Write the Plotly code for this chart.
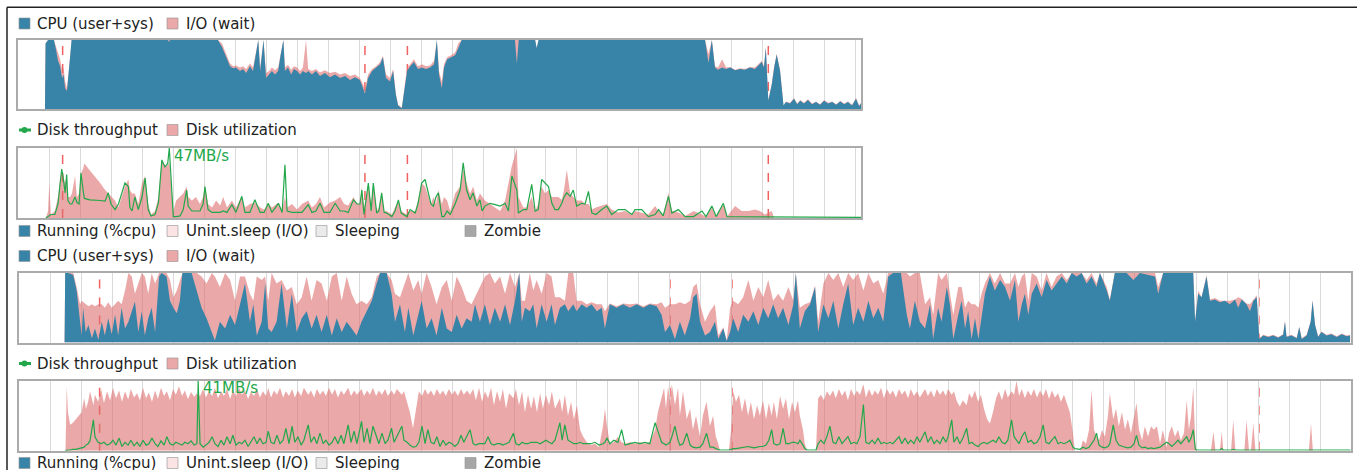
import plotly.graph_objects as go

W, H = 1357, 470
FONT = "DejaVu Sans"
BLUE = "#3884a8"
PINK = "rgba(222,110,110,0.6)"
GREEN = "#22a84a"
TEXT = "#222222"

# ---------------- data: first boot (top) ----------------
TOP_DURATION = 27.18
TOP_EVENTS = [1.43, 11.18, 12.55, 24.19]
TOP_MAX_LABEL = "47MB/s"

TOP_CPU_T = [
    0.86, 0.88, 0.96, 1.15, 1.22, 1.28, 1.35, 1.41, 1.46, 1.51,
    1.57, 1.64, 1.72, 4.83, 4.86, 4.89, 6.44, 6.57, 6.70, 6.83,
    6.93, 7.02, 7.15, 7.25, 7.35, 7.47, 7.57, 7.67, 7.74, 7.80,
    7.86, 7.91, 7.99, 8.09, 8.18, 8.28, 8.38, 8.46, 8.55, 8.60,
    8.70, 8.80, 8.89, 8.99, 9.09, 9.18, 9.28, 9.35, 9.47, 9.60,
    9.73, 9.89, 10.05, 10.22, 10.38, 10.54, 10.70, 10.86, 11.02, 11.12,
    11.18, 11.28, 11.41, 11.54, 11.67, 11.76, 11.86, 11.99, 12.09, 12.18,
    12.25, 12.37, 12.44, 12.54, 12.64, 12.76, 12.89, 13.02, 13.15, 13.28,
    13.41, 13.50, 13.57, 13.66, 13.73, 13.83, 13.96, 14.09, 14.19, 14.30,
    16.02, 16.08, 16.14, 16.67, 16.72, 16.78, 22.15, 22.26, 22.37, 22.47,
    22.57, 22.70, 22.83, 22.96, 23.12, 23.28, 23.44, 23.60, 23.76, 23.86,
    23.98, 24.05, 24.11, 24.19, 24.30, 24.38, 24.46, 24.57, 24.68, 24.76,
    24.89, 25.02, 25.12, 25.22, 25.34, 25.47, 25.60, 25.73, 25.86, 25.99,
    26.12, 26.25, 26.38, 26.51, 26.64, 26.76, 26.89, 27.02, 27.12, 27.18,
]
TOP_CPU = [
    0, 0.95, 1, 1, 0.85, 0.7, 0.62, 0.45, 0.5, 0.3,
    0.26, 0.6, 1, 1, 0.97, 1, 1, 0.9, 0.75, 0.62,
    0.59, 0.6, 0.55, 0.58, 0.52, 0.62, 0.55, 0.8, 1, 0.55,
    0.8, 1, 0.45, 0.5, 0.55, 0.5, 0.55, 0.78, 1, 0.55,
    0.6, 0.5, 0.58, 0.55, 0.5, 0.55, 0.52, 0.55, 0.5, 0.55,
    0.48, 0.52, 0.46, 0.5, 0.45, 0.48, 0.42, 0.46, 0.42, 0.3,
    0.22, 0.45, 0.55, 0.6, 0.65, 0.75, 0.45, 0.4, 0.55, 0.2,
    0.05, 0.01, 0.25, 0.55, 0.62, 0.68, 0.58, 0.6, 0.58, 0.6,
    0.65, 1, 0.5, 0.3, 0.6, 0.72, 0.75, 0.78, 0.88, 1,
    1, 0.66, 1, 1, 0.88, 1, 1, 0.67, 1, 0.6,
    0.57, 0.6, 0.58, 0.6, 0.56, 0.58, 0.57, 0.6, 0.58, 0.62,
    0.68, 0.6, 0.89, 0.12, 0.35, 0.6, 0.79, 0.55, 0.05, 0.1,
    0.08, 0.15, 0.07, 0.12, 0.08, 0.13, 0.07, 0.1, 0.06, 0.12,
    0.08, 0.1, 0.06, 0.11, 0.07, 0.1, 0.05, 0.15, 0.04, 0.08,
]
TOP_CPU_IO = [
    0, 0.95, 1, 1, 0.9, 0.8, 0.72, 0.55, 0.6, 0.4,
    0.3, 0.6, 1, 1, 1, 1, 1, 0.95, 0.8, 0.66,
    0.62, 0.63, 0.6, 0.62, 0.58, 0.66, 0.6, 0.82, 1, 0.6,
    0.82, 1, 0.52, 0.55, 0.6, 0.56, 0.6, 0.8, 1, 0.6,
    0.64, 0.57, 0.62, 0.6, 0.55, 0.6, 1, 0.58, 0.55, 0.58,
    0.53, 0.56, 0.52, 0.54, 0.5, 0.52, 0.48, 0.5, 0.45, 0.36,
    0.28, 0.5, 0.58, 0.62, 0.68, 0.77, 0.5, 0.45, 0.58, 0.22,
    0.06, 0.02, 0.27, 0.6, 0.65, 0.72, 0.62, 0.65, 0.62, 0.63,
    0.7, 1, 0.55, 0.4, 0.65, 0.75, 0.78, 0.82, 0.95, 1,
    1, 1, 1, 1, 0.88, 1, 1, 0.8, 1, 0.62,
    0.6, 0.72, 0.6, 0.61, 0.57, 0.59, 0.58, 0.61, 0.6, 0.64,
    0.7, 0.62, 0.89, 0.13, 0.36, 0.62, 0.8, 0.56, 0.05, 0.11,
    0.09, 0.16, 0.08, 0.13, 0.09, 0.14, 0.08, 0.11, 0.07, 0.13,
    0.09, 0.11, 0.07, 0.12, 0.08, 0.11, 0.06, 0.16, 0.05, 0.09,
]

TOP_DISK_T = [
    0.89, 0.96, 1.00, 1.05, 1.18, 1.28, 1.35, 1.40, 1.44, 1.51,
    1.56, 1.60, 1.67, 1.73, 1.83, 1.89, 1.96, 2.02, 2.09, 2.13,
    2.31, 2.47, 2.64, 2.80, 2.90, 2.99, 3.12, 3.23, 3.34, 3.44,
    3.55, 3.60, 3.67, 3.76, 3.87, 3.99, 4.09, 4.19, 4.28, 4.41,
    4.52, 4.63, 4.73, 4.82, 4.87, 4.93, 5.00, 5.09, 5.22, 5.32,
    5.43, 5.48, 5.60, 5.73, 5.86, 5.96, 6.02, 6.12, 6.25, 6.38,
    6.51, 6.61, 6.73, 6.89, 7.02, 7.21, 7.31, 7.47, 7.63, 7.80,
    7.93, 8.06, 8.18, 8.39, 8.51, 8.60, 8.67, 8.83, 8.99, 9.15,
    9.35, 9.47, 9.60, 9.73, 9.86, 10.05, 10.22, 10.38, 10.51, 10.64,
    10.81, 10.93, 11.02, 11.08, 11.15, 11.29, 11.38, 11.45, 11.56, 11.63,
    11.72, 11.80, 11.88, 12.05, 12.15, 12.26, 12.35, 12.53, 12.64, 12.80,
    12.89, 13.01, 13.12, 13.23, 13.31, 13.39, 13.47, 13.55, 13.66, 13.73,
    13.83, 13.93, 14.09, 14.25, 14.35, 14.46, 14.57, 14.67, 14.79, 14.89,
    14.96, 15.05, 15.21, 15.38, 15.54, 15.70, 15.81, 15.92, 15.99, 16.08,
    16.13, 16.29, 16.40, 16.56, 16.67, 16.77, 16.88, 16.99, 17.10, 17.21,
    17.31, 17.42, 17.53, 17.60, 17.69, 17.80, 17.90, 18.01, 18.17, 18.28,
    18.39, 18.50, 18.63, 18.82, 18.98, 19.14, 19.35, 19.57, 19.79, 19.89,
    20.11, 20.32, 20.54, 20.65, 20.80, 20.97, 21.08, 21.29, 21.51, 21.78,
    22.05, 22.18, 22.37, 22.51, 22.74, 22.86, 23.12, 23.33, 23.55, 23.76,
    23.92, 24.08, 24.30, 24.38, 27.18,
]
TOP_UTIL = [
    0, 0.1, 0.5, 0.05, 0.1, 0.3, 0.55, 0.68, 0.6, 0.5,
    0.55, 0.3, 0.3, 0.35, 0.6, 0.3, 0.35, 0.64, 0.7, 0.78,
    0.68, 0.6, 0.5, 0.4, 0.35, 0.3, 0.25, 0.15, 0.3, 0.45,
    0.55, 0.4, 0.35, 0.35, 0.2, 0.5, 0.6, 0.2, 0.05, 0.1,
    0.3, 0.83, 0.75, 0.75, 0.8, 0.5, 0.1, 0.25, 0.3, 0.35,
    0.45, 0.3, 0.25, 0.3, 0.2, 0.3, 0.45, 0.2, 0.15, 0.25,
    0.18, 0.3, 0.15, 0.25, 0.15, 0.31, 0.15, 0.2, 0.22, 0.15,
    0.12, 0.2, 0.15, 0.22, 0.1, 0.3, 0.15, 0.2, 0.12, 0.2,
    0.25, 0.15, 0.2, 0.3, 0.15, 0.22, 0.25, 0.3, 0.2, 0.18,
    0.3, 0.2, 0.2, 0.45, 0.15, 0.45, 0.2, 0.45, 0.1, 0.15,
    0.35, 0.1, 0.1, 0.05, 0.15, 0.25, 0.1, 0.05, 0.1, 0.1,
    0.25, 0.5, 0.45, 0.3, 0.2, 0.3, 0.2, 0.4, 0.2, 0.3,
    0.25, 0.1, 0.35, 0.45, 0.7, 0.5, 0.35, 0.45, 0.25, 0.35,
    0.3, 0.25, 0.2, 0.15, 0.1, 0.25, 0.5, 0.75, 0.85, 1.0,
    0.3, 0.15, 0.15, 0.3, 0.1, 0.2, 0.45, 0.35, 0.4, 0.3,
    0.3, 0.3, 0.26, 0.4, 0.69, 0.35, 0.3, 0.25, 0.25, 0.2,
    0.2, 0.12, 0.15, 0.18, 0.2, 0.12, 0.08, 0.1, 0.05, 0.1,
    0.08, 0.05, 0.17, 0.1, 0.05, 0.36, 0.1, 0.08, 0.03, 0.1,
    0.05, 0.02, 0.15, 0.02, 0.2, 0.02, 0.17, 0.1, 0.1, 0.12,
    0.1, 0.05, 0.1, 0, 0,
]
TOP_TPUT = [
    0, 0.02, 0.03, 0.05, 0.05, 0.2, 0.5, 0.7, 0.6, 0.36,
    0.62, 0.25, 0.2, 0.2, 0.3, 0.22, 0.2, 0.64, 0.4, 0.28,
    0.26, 0.26, 0.25, 0.24, 0.36, 0.2, 0.12, 0.2, 0.36, 0.5,
    0.45, 0.15, 0.1, 0.3, 0.12, 0.3, 0.57, 0.12, 0.03, 0.05,
    0.22, 0.83, 0.73, 0.78, 1.0, 0.6, 0.02, 0.02, 0.03, 0.12,
    0.4, 0.17, 0.1, 0.1, 0.1, 0.2, 0.45, 0.12, 0.08, 0.08,
    0.08, 0.1, 0.08, 0.19, 0.08, 0.31, 0.08, 0.08, 0.26, 0.08,
    0.08, 0.21, 0.08, 0.21, 0.08, 0.76, 0.1, 0.08, 0.08, 0.08,
    0.19, 0.08, 0.1, 0.21, 0.08, 0.08, 0.21, 0.1, 0.1, 0.08,
    0.26, 0.2, 0.2, 0.4, 0.05, 0.5, 0.1, 0.5, 0.07, 0.1,
    0.36, 0.08, 0.07, 0.02, 0.1, 0.26, 0.07, 0.02, 0.12, 0.07,
    0.2, 0.5, 0.55, 0.36, 0.2, 0.17, 0.3, 0.36, 0.02, 0.02,
    0.1, 0.05, 0.2, 0.4, 0.79, 0.4, 0.26, 0.36, 0.17, 0.26,
    0.1, 0.17, 0.21, 0.19, 0.17, 0.21, 0.1, 0.6, 0.5, 0.4,
    0.07, 0.12, 0.12, 0.48, 0.1, 0.12, 0.55, 0.5, 0.45, 0.21,
    0.12, 0.12, 0.21, 0.3, 0.36, 0.31, 0.4, 0.17, 0.21, 0.2,
    0.38, 0.07, 0.05, 0.12, 0.17, 0.05, 0.12, 0.12, 0.05, 0.12,
    0.12, 0.02, 0.05, 0.12, 0.03, 0.31, 0.07, 0.12, 0.02, 0.02,
    0.1, 0.02, 0.17, 0.02, 0.21, 0.02, 0.02, 0.02, 0.02, 0.02,
    0.02, 0.02, 0.02, 0.01, 0.01,
]

# ---------------- data: second boot (bottom) ----------------
BOT_DURATION = 42.96
BOT_EVENTS = [2.6, 21.0, 23.0, 40.0]
BOT_MAX_LABEL = "41MB/s"

BOT_CPU_T = [
    1.47, 1.49, 1.59, 1.75, 1.86, 1.97, 2.02, 2.07, 2.15, 2.24,
    2.35, 2.45, 2.56, 2.67, 2.77, 2.88, 2.99, 3.10, 3.20, 3.31,
    3.42, 3.53, 3.64, 3.74, 3.85, 3.96, 4.06, 4.17, 4.28, 4.39,
    4.52, 4.60, 4.76, 4.87, 4.98, 5.09, 5.19, 5.27, 5.57, 5.73,
    5.89, 6.05, 6.22, 6.32, 6.48, 6.65, 6.81, 6.97, 7.13, 7.29,
    7.45, 7.56, 7.67, 7.83, 7.94, 8.04, 8.15, 8.31, 8.47, 8.64,
    8.80, 8.96, 9.12, 9.28, 9.44, 9.60, 9.76, 9.93, 10.09, 10.25,
    10.41, 10.57, 10.73, 10.89, 11.05, 11.22, 11.38, 11.54, 11.65, 11.86,
    12.02, 12.13, 12.29, 12.45, 12.56, 12.72, 12.88, 12.99, 13.15, 13.31,
    13.47, 13.64, 13.80, 13.96, 14.12, 14.28, 14.44, 14.60, 14.71, 14.87,
    15.03, 15.19, 15.35, 15.52, 15.68, 15.84, 16.00, 16.14, 16.22, 16.32,
    16.48, 16.59, 16.70, 16.86, 17.02, 17.18, 17.29, 17.45, 17.61, 17.72,
    17.88, 17.99, 18.15, 18.31, 18.47, 18.64, 18.80, 18.90, 19.06, 19.28,
    19.49, 19.71, 19.93, 20.14, 20.35, 20.57, 20.73, 20.84, 21.00, 21.16,
    21.32, 21.48, 21.65, 21.75, 21.86, 21.97, 22.13, 22.29, 22.45, 22.56,
    22.72, 22.83, 22.94, 23.04, 23.20, 23.36, 23.53, 23.69, 23.85, 24.01,
    24.17, 24.33, 24.49, 24.65, 24.82, 24.98, 25.06, 25.19, 25.35, 25.52,
    25.68, 25.78, 25.95, 26.11, 26.27, 26.43, 26.59, 26.75, 26.91, 27.07,
    27.24, 27.40, 27.56, 27.72, 27.88, 28.04, 28.20, 28.45, 28.64, 28.74,
    28.90, 29.06, 29.23, 29.39, 29.49, 29.65, 29.76, 29.93, 30.03, 30.14,
    30.30, 30.41, 30.52, 30.62, 30.73, 30.84, 30.95, 31.05, 31.16, 31.32,
    31.48, 31.65, 31.81, 31.97, 32.13, 32.24, 32.35, 32.45, 32.56, 32.67,
    32.83, 32.99, 33.15, 33.31, 33.47, 33.64, 33.80, 33.96, 34.12, 34.28,
    34.44, 34.60, 34.76, 34.87, 35.09, 35.19, 35.35, 35.73, 35.95, 36.16,
    36.65, 36.75, 36.91, 37.88, 37.94, 38.04, 38.15, 38.31, 38.42, 38.58,
    38.74, 38.90, 39.06, 39.23, 39.33, 39.44, 39.60, 39.71, 39.82, 39.93,
    40.01, 40.14, 40.30, 40.46, 40.62, 40.78, 40.84, 40.89, 41.05, 41.22,
    41.30, 41.38, 41.54, 41.67, 41.73, 41.81, 41.91, 42.02, 42.18, 42.34,
    42.51, 42.67, 42.83, 42.94,
]
BOT_CPU = [
    0, 1, 1, 0.97, 0.75, 0.3, 0.1, 0.5, 0.15, 0.25,
    0.06, 0.2, 0.04, 0.3, 0.1, 0.35, 0.12, 0.4, 0.1, 0.5,
    0.2, 0.3, 0.45, 0.59, 0.15, 0.45, 0.1, 0.35, 0.5, 0.15,
    0.95, 1, 0.95, 0.6, 0.5, 0.42, 0.6, 1, 1, 0.75,
    0.5, 0.35, 0.15, 0.03, 0.3, 0.2, 0.4, 0.25, 0.55, 0.85,
    0.3, 0.55, 0.1, 0.3, 0.85, 0.2, 0.15, 0.3, 0.85, 0.2,
    0.7, 0.15, 0.35, 0.45, 0.2, 0.4, 0.15, 0.4, 0.1, 0.35,
    0.15, 0.3, 0.2, 0.1, 0.3, 0.45, 0.6, 0.85, 1, 1,
    0.7, 0.3, 0.55, 0.15, 0.5, 0.1, 0.4, 0.6, 0.2, 0.35,
    0.1, 0.5, 0.2, 0.15, 0.4, 0.2, 0.35, 0.3, 0.55, 0.3,
    0.55, 0.25, 0.5, 0.3, 0.55, 0.25, 0.6, 1, 0.3, 0.5,
    0.45, 0.55, 0.2, 0.55, 0.3, 0.55, 0.25, 0.5, 0.55, 0.45,
    0.55, 0.45, 0.55, 0.5, 0.55, 0.45, 0.5, 0.2, 0.55, 0.5,
    0.55, 0.5, 0.55, 0.5, 0.55, 0.52, 0.4, 0.15, 0.25, 0.05,
    0.3, 0.1, 0.35, 0.65, 0.7, 0.3, 0.1, 0.15, 0.3, 0.05,
    0.2, 0.02, 0.15, 0.35, 0.15, 0.4, 0.3, 0.45, 0.25, 0.5,
    0.35, 0.55, 0.35, 0.5, 0.25, 0.55, 1, 0.2, 0.45, 0.55,
    0.8, 0.15, 0.55, 0.35, 0.6, 0.2, 0.55, 0.85, 0.25, 0.5,
    0.3, 0.6, 0.35, 0.5, 0.3, 0.95, 1, 1, 0.4, 0.2,
    0.6, 0.3, 0.2, 0.55, 0.05, 0.5, 0.3, 0.8, 0.55, 0.05,
    0.4, 0.6, 0.2, 0.45, 0.05, 0.35, 0.05, 0.4, 0.7, 0.95,
    0.75, 0.9, 0.8, 0.6, 0.9, 0.3, 0.55, 0.7, 0.4, 0.7,
    0.85, 0.65, 0.9, 0.75, 0.85, 0.95, 0.85, 1, 0.95, 1,
    0.85, 0.95, 0.8, 1, 0.75, 0.6, 1, 1, 0.9, 1,
    0.95, 0.7, 1, 1, 0.3, 0.7, 0.65, 0.95, 0.6, 0.62,
    0.58, 0.6, 0.55, 0.62, 0.5, 0.62, 0.55, 0.45, 0.6, 0.65,
    0.05, 0.1, 0.08, 0.1, 0.07, 0.11, 0.3, 0.08, 0.1, 0.06,
    0.22, 0.05, 0.1, 0.3, 0.6, 0.25, 0.08, 0.15, 0.1, 0.12,
    0.08, 0.12, 0.09, 0.1,
]
BOT_CPU_IO = [
    0, 1, 1, 1, 0.8, 0.55, 0.6, 0.58, 0.55, 0.52,
    0.55, 0.52, 0.55, 0.55, 0.5, 0.58, 0.5, 0.55, 0.6, 0.55,
    0.75, 1.0, 0.95, 0.7, 0.85, 1.0, 0.95, 0.7, 1.0, 0.85,
    1.0, 1, 1, 0.9, 0.65, 0.75, 0.9, 1, 1, 1,
    0.95, 0.85, 1.0, 0.95, 0.8, 1.0, 0.9, 0.6, 0.95, 0.95,
    0.7, 0.6, 0.95, 0.9, 0.95, 0.6, 1.0, 0.85, 0.9, 0.75,
    0.8, 0.55, 0.65, 0.95, 0.6, 0.9, 0.85, 0.6, 0.95, 1.0,
    0.6, 0.95, 0.7, 0.55, 0.6, 0.55, 0.65, 0.95, 1, 1,
    0.9, 0.7, 0.65, 0.85, 1.0, 0.75, 0.9, 0.7, 1.0, 0.8,
    0.55, 0.8, 0.9, 0.6, 0.95, 0.8, 0.6, 0.55, 0.65, 0.8,
    0.95, 1.0, 0.85, 0.95, 0.7, 1.0, 0.8, 1, 0.6, 0.6,
    1.0, 0.75, 0.9, 0.7, 1.0, 0.95, 0.65, 0.65, 0.6, 1.0,
    1.0, 0.6, 0.6, 0.55, 0.58, 0.55, 0.55, 0.45, 0.56, 0.52,
    0.56, 0.55, 0.56, 0.52, 0.56, 0.55, 0.58, 0.5, 0.55, 0.55,
    0.58, 0.55, 0.6, 0.8, 0.85, 0.55, 0.3, 0.45, 0.55, 0.1,
    0.22, 0.03, 0.5, 0.6, 0.55, 0.65, 0.9, 0.6, 0.8, 0.65,
    0.9, 0.6, 0.7, 0.6, 0.8, 0.6, 1, 0.5, 0.55, 0.58,
    0.82, 0.3, 0.85, 1.0, 0.9, 1.0, 0.8, 1.0, 0.9, 1.0,
    0.75, 1.0, 0.85, 0.9, 0.7, 1.0, 1, 1, 1.0, 0.95,
    1.0, 1.0, 0.55, 0.65, 0.4, 1.0, 0.9, 1.0, 0.7, 0.4,
    0.8, 0.8, 0.5, 0.6, 0.55, 0.55, 0.5, 0.7, 0.85, 1.0,
    0.85, 1.0, 0.85, 0.85, 1.0, 0.8, 0.95, 1.0, 0.6, 1.0,
    0.95, 0.75, 1.0, 0.8, 0.95, 1.0, 0.9, 1, 1, 1,
    0.9, 1.0, 0.85, 1, 0.8, 0.62, 1, 1, 1.0, 1,
    1, 0.8, 1, 1, 0.3, 0.75, 0.65, 0.97, 0.62, 0.64,
    0.6, 0.6, 0.6, 0.62, 0.65, 0.63, 0.56, 0.55, 0.62, 0.68,
    0.06, 0.11, 0.09, 0.11, 0.08, 0.12, 0.31, 0.09, 0.11, 0.07,
    0.23, 0.06, 0.11, 0.31, 0.61, 0.26, 0.09, 0.16, 0.11, 0.13,
    0.09, 0.13, 0.1, 0.11,
]

BOT_DISK_T = [
    1.50, 1.54, 1.58, 1.65, 1.74, 1.84, 1.94, 2.02, 2.10, 2.16,
    2.23, 2.29, 2.40, 2.45, 2.55, 2.65, 2.74, 2.84, 2.94, 3.03,
    3.13, 3.23, 3.32, 3.42, 3.52, 3.61, 3.71, 3.81, 3.90, 4.00,
    4.10, 4.19, 4.29, 4.39, 4.48, 4.58, 4.68, 4.77, 4.87, 4.97,
    5.06, 5.16, 5.26, 5.35, 5.45, 5.55, 5.65, 5.74, 5.78, 5.84,
    5.94, 6.03, 6.13, 6.23, 6.32, 6.42, 6.52, 6.61, 6.71, 6.81,
    6.90, 7.00, 7.10, 7.19, 7.29, 7.39, 7.48, 7.58, 7.68, 7.77,
    7.87, 7.97, 8.04, 8.13, 8.23, 8.32, 8.42, 8.52, 8.61, 8.71,
    8.81, 8.90, 9.00, 9.10, 9.19, 9.33, 9.42, 9.52, 9.61, 9.71,
    9.81, 9.90, 10.00, 10.10, 10.19, 10.29, 10.39, 10.48, 10.62, 10.71,
    10.81, 10.90, 11.05, 11.13, 11.23, 11.32, 11.42, 11.52, 11.61, 11.71,
    11.81, 11.90, 12.02, 12.10, 12.19, 12.35, 12.42, 12.52, 12.61, 12.71,
    12.81, 12.90, 13.00, 13.10, 13.19, 13.29, 13.39, 13.48, 13.58, 13.68,
    13.77, 13.87, 13.97, 14.06, 14.16, 14.26, 14.35, 14.45, 14.55, 14.65,
    14.74, 14.84, 14.94, 15.03, 15.13, 15.23, 15.32, 15.42, 15.52, 15.61,
    15.71, 15.81, 15.95, 16.03, 16.13, 16.23, 16.32, 16.42, 16.52, 16.61,
    16.71, 16.81, 16.90, 17.00, 17.10, 17.19, 17.29, 17.45, 17.52, 17.61,
    17.71, 17.81, 17.90, 18.00, 18.10, 18.20, 18.32, 18.45, 18.58, 18.71,
    18.84, 18.90, 18.97, 19.06, 19.19, 19.32, 19.44, 19.55, 19.71, 19.87,
    20.03, 20.19, 20.35, 20.52, 20.61, 20.73, 20.81, 20.87, 20.94, 21.00,
    21.06, 21.16, 21.26, 21.32, 21.42, 21.54, 21.65, 21.74, 21.84, 21.97,
    22.06, 22.18, 22.29, 22.39, 22.48, 22.56, 22.61, 22.90, 22.97, 23.04,
    23.13, 23.23, 23.32, 23.42, 23.52, 23.61, 23.71, 23.81, 23.90, 24.00,
    24.10, 24.19, 24.28, 24.35, 24.45, 24.55, 24.65, 24.74, 24.84, 24.94,
    25.03, 25.13, 25.19, 25.29, 25.35, 25.42, 25.71, 25.78, 25.87, 25.97,
    26.06, 26.16, 26.26, 26.35, 26.45, 26.55, 26.65, 26.74, 26.84, 26.94,
    27.03, 27.13, 27.24, 27.32, 27.42, 27.52, 27.61, 27.71, 27.81, 27.90,
    28.00, 28.10, 28.19, 28.29, 28.39, 28.48, 28.58, 28.68, 28.77, 28.87,
    28.97, 29.06, 29.23, 29.32, 29.42, 29.52, 29.61, 29.71, 29.81, 29.90,
    29.97, 30.09, 30.16, 30.26, 30.35, 30.45, 30.57, 30.65, 30.74, 30.84,
    30.94, 31.03, 31.13, 31.23, 31.32, 31.42, 31.52, 31.61, 31.71, 31.81,
    31.90, 32.02, 32.10, 32.18, 32.26, 32.35, 32.45, 32.55, 32.65, 32.74,
    32.84, 32.94, 33.04, 33.13, 33.23, 33.32, 33.42, 33.52, 33.61, 33.71,
    33.81, 33.90, 34.00, 34.06, 34.23, 34.32, 34.42, 34.52, 34.60, 34.68,
    34.76, 34.84, 34.94, 35.03, 35.13, 35.19, 35.30, 35.39, 35.48, 35.58,
    35.68, 35.77, 35.87, 35.97, 36.05, 36.13, 36.23, 36.32, 36.42, 36.52,
    36.61, 36.71, 36.81, 36.90, 37.02, 37.10, 37.19, 37.29, 37.39, 37.48,
    37.58, 37.67, 37.74, 37.81, 37.88, 37.95, 38.00, 38.45, 38.53, 38.60,
    38.74, 38.80, 38.85, 39.10, 39.17, 39.24, 39.53, 39.60, 39.68, 39.74,
    39.82, 39.89, 41.61, 41.68, 41.74, 42.96,
]
BOT_UTIL = [
    0, 0.92, 0.55, 0.37, 0.4, 0.45, 0.5, 0.55, 0.75, 0.6,
    0.7, 0.85, 0.65, 0.8, 0.7, 0.88, 0.68, 0.85, 0.72, 0.9,
    0.75, 0.86, 0.7, 0.85, 0.73, 0.88, 0.76, 0.82, 0.72, 0.9,
    0.75, 0.83, 0.7, 0.86, 0.74, 0.9, 0.78, 0.85, 0.72, 0.88,
    0.8, 0.92, 0.78, 0.86, 0.74, 0.84, 0.77, 0.82, 0.8, 0.78,
    0.88, 0.76, 0.85, 0.78, 0.9, 0.75, 0.85, 0.78, 0.88, 0.74,
    0.86, 0.78, 0.9, 0.8, 0.86, 0.74, 0.84, 0.78, 0.88, 0.76,
    0.85, 0.78, 0.9, 0.76, 0.86, 0.8, 0.9, 0.76, 0.85, 0.78,
    0.88, 0.76, 0.86, 0.78, 0.9, 0.8, 0.86, 0.76, 0.88, 0.8,
    0.86, 0.78, 0.9, 0.8, 0.88, 0.76, 0.86, 0.8, 0.9, 0.78,
    0.86, 0.8, 0.88, 0.78, 0.86, 0.8, 0.9, 0.78, 0.86, 0.8,
    0.88, 0.78, 0.86, 0.8, 0.88, 0.8, 0.85, 0.7, 0.55, 0.32,
    0.6, 0.85, 0.78, 0.88, 0.8, 0.86, 0.78, 0.88, 0.8, 0.86,
    0.78, 0.88, 0.8, 0.86, 0.78, 0.88, 0.8, 0.86, 0.8, 0.88,
    0.72, 0.9, 0.7, 0.85, 0.75, 0.9, 0.65, 0.85, 0.7, 0.88,
    0.6, 0.82, 0.75, 0.88, 0.65, 0.85, 0.55, 0.8, 0.6, 0.78,
    0.55, 0.82, 0.6, 0.8, 0.65, 0.85, 0.6, 0.75, 0.55, 0.8,
    0.5, 0.7, 0.45, 0.65, 0.3, 0.2, 0.12, 0.08, 0.1, 0.05,
    0.35, 0.6, 0.35, 0.1, 0.12, 0.2, 0.12, 0.1, 0.12, 0.1,
    0.12, 0.1, 0.12, 0.3, 0.55, 0.75, 0.9, 0.6, 0.92, 0.7,
    0.95, 0.65, 0.9, 0.5, 0.85, 0.45, 0.6, 0.3, 0.5, 0.2,
    0.5, 0.7, 0.35, 0.5, 0.2, 0.1, 0, 0, 0.3, 0.85,
    0.7, 0.8, 0.55, 0.75, 0.5, 0.7, 0.45, 0.65, 0.5, 0.72,
    0.45, 0.68, 0.5, 0.7, 0.45, 0.78, 0.6, 0.75, 0.45, 0.7,
    0.55, 0.72, 0.5, 0.3, 0.1, 0, 0, 0.75, 0.8, 0.72,
    0.85, 0.78, 0.86, 0.75, 0.88, 0.78, 0.86, 0.72, 0.88, 0.78,
    0.86, 0.8, 0.95, 0.76, 0.88, 0.78, 0.86, 0.8, 0.9, 0.75,
    0.88, 0.8, 0.86, 0.76, 0.88, 0.8, 0.86, 0.75, 0.88, 0.78,
    0.85, 0.76, 0.88, 0.78, 0.86, 0.76, 0.88, 0.8, 0.86, 0.78,
    0.88, 0.8, 0.85, 0.7, 0.63, 0.72, 0.65, 0.82, 0.75, 0.86,
    0.7, 0.8, 0.6, 0.45, 0.39, 0.55, 0.75, 0.85, 0.72, 0.88,
    0.76, 0.85, 0.8, 1.0, 0.78, 0.88, 0.75, 0.86, 0.78, 0.88,
    0.76, 0.86, 0.78, 0.88, 0.74, 0.86, 0.76, 0.82, 0.7, 0.8,
    0.65, 0.55, 0.25, 0, 0, 0.15, 0.1, 0.3, 0.87, 0.3,
    0.2, 0.15, 0.3, 0.2, 0.5, 0.82, 0.45, 0.6, 0.35, 0.55,
    0.3, 0.45, 0.25, 0.5, 0.68, 0.3, 0.15, 0.35, 0.2, 0.35,
    0.3, 0.35, 0.1, 0.3, 0.05, 0.25, 0.35, 0.2, 0.3, 0.15,
    0.25, 0.72, 0.3, 0.5, 0.91, 0.05, 0, 0, 0.27, 0,
    0, 0.27, 0, 0, 0.44, 0, 0, 0.44, 0, 0,
    0.39, 0, 0, 0.39, 0, 0,
]
BOT_TPUT = [
    0, 0.01, 0.01, 0.01, 0.02, 0.02, 0.03, 0.04, 0.05, 0.08,
    0.1, 0.14, 0.44, 0.2, 0.12, 0.1, 0.12, 0.08, 0.1, 0.15,
    0.08, 0.18, 0.06, 0.12, 0.08, 0.15, 0.07, 0.12, 0.06, 0.15,
    0.08, 0.1, 0.18, 0.1, 0.06, 0.14, 0.08, 0.2, 0.1, 0.08,
    0.12, 0.1, 0.08, 0.12, 0.1, 0.14, 0.08, 0.1, 1.0, 0.1,
    0.05, 0.08, 0.12, 0.2, 0.1, 0.06, 0.15, 0.08, 0.2, 0.1,
    0.22, 0.08, 0.12, 0.1, 0.15, 0.06, 0.12, 0.2, 0.1, 0.18,
    0.1, 0.12, 0.28, 0.12, 0.1, 0.22, 0.1, 0.15, 0.32, 0.1,
    0.35, 0.12, 0.2, 0.08, 0.15, 0.37, 0.12, 0.2, 0.1, 0.25,
    0.1, 0.15, 0.08, 0.12, 0.2, 0.1, 0.22, 0.1, 0.37, 0.12,
    0.28, 0.1, 0.42, 0.12, 0.32, 0.1, 0.35, 0.2, 0.1, 0.25,
    0.1, 0.15, 0.32, 0.12, 0.2, 0.35, 0.15, 0.12, 0.08, 0.05,
    0.06, 0.12, 0.35, 0.1, 0.3, 0.12, 0.1, 0.2, 0.06, 0.15,
    0.08, 0.12, 0.1, 0.06, 0.1, 0.22, 0.12, 0.2, 0.3, 0.1,
    0.08, 0.1, 0.1, 0.1, 0.2, 0.1, 0.08, 0.1, 0.1, 0.08,
    0.1, 0.12, 0.25, 0.1, 0.08, 0.12, 0.1, 0.1, 0.12, 0.12,
    0.12, 0.1, 0.12, 0.15, 0.12, 0.1, 0.15, 0.4, 0.15, 0.37,
    0.15, 0.12, 0.1, 0.1, 0.12, 0.1, 0.1, 0.1, 0.12, 0.08,
    0.1, 0.12, 0.18, 0.1, 0.15, 0.12, 0.3, 0.08, 0.1, 0.12,
    0.1, 0.12, 0.1, 0.4, 0.28, 0.12, 0.1, 0.08, 0.1, 0.12,
    0.2, 0.35, 0.15, 0.08, 0.1, 0.25, 0.08, 0.05, 0.04, 0.05,
    0.1, 0.25, 0.05, 0.05, 0.03, 0.02, 0.01, 0.01, 0.02, 0.03,
    0.03, 0.04, 0.05, 0.05, 0.06, 0.05, 0.04, 0.05, 0.06, 0.06,
    0.08, 0.15, 0.3, 0.1, 0.08, 0.1, 0.32, 0.1, 0.1, 0.12,
    0.12, 0.1, 0.15, 0.08, 0.03, 0.01, 0.01, 0.1, 0.15, 0.1,
    0.2, 0.35, 0.12, 0.1, 0.2, 0.1, 0.15, 0.2, 0.1, 0.12,
    0.1, 0.2, 0.66, 0.12, 0.1, 0.15, 0.1, 0.18, 0.1, 0.12,
    0.1, 0.12, 0.1, 0.15, 0.2, 0.1, 0.18, 0.1, 0.15, 0.1,
    0.2, 0.12, 0.27, 0.12, 0.2, 0.1, 0.15, 0.1, 0.2, 0.12,
    0.2, 0.44, 0.12, 0.2, 0.1, 0.18, 0.32, 0.1, 0.12, 0.08,
    0.06, 0.1, 0.12, 0.1, 0.12, 0.15, 0.12, 0.2, 0.12, 0.1,
    0.15, 0.44, 0.2, 0.15, 0.1, 0.2, 0.27, 0.12, 0.15, 0.1,
    0.12, 0.2, 0.37, 0.12, 0.1, 0.15, 0.2, 0.1, 0.12, 0.1,
    0.12, 0.15, 0.05, 0.03, 0.02, 0.05, 0.03, 0.05, 0.1, 0.15,
    0.25, 0.08, 0.05, 0.04, 0.06, 0.1, 0.37, 0.15, 0.08, 0.06,
    0.05, 0.04, 0.05, 0.1, 0.22, 0.08, 0.04, 0.05, 0.03, 0.04,
    0.03, 0.04, 0.05, 0.08, 0.12, 0.1, 0.06, 0.1, 0.15, 0.1,
    0.15, 0.2, 0.12, 0.18, 0.3, 0.02, 0.01, 0.01, 0.02, 0.01,
    0.01, 0.03, 0.01, 0.01, 0.02, 0.01, 0.01, 0.02, 0.01, 0.01,
    0.02, 0.01, 0.01, 0.02, 0.01, 0.01,
]

LEGEND_CPU = [("CPU (user+sys)", BLUE), ("I/O (wait)", "#eba8a8")]
LEGEND_DISK = ["Disk throughput", "Disk utilization"]
LEGEND_PROC = [("Running (%cpu)", BLUE), ("Unint.sleep (I/O)", "#fbe3e3"),
               ("Sleeping", "#ebebeb"), ("Zombie", "#a6a6a6")]

for a, b in [(TOP_CPU_T, TOP_CPU), (TOP_CPU_T, TOP_CPU_IO), (TOP_DISK_T, TOP_UTIL),
             (TOP_DISK_T, TOP_TPUT), (BOT_CPU_T, BOT_CPU), (BOT_CPU_T, BOT_CPU_IO),
             (BOT_DISK_T, BOT_UTIL), (BOT_DISK_T, BOT_TPUT)]:
    assert len(a) == len(b), (len(a), len(b))

# ---------------- figure ----------------
fig = go.Figure()


def px_x(px):
    return px / W


def px_y(py):
    return 1 - py / H


def area(x, y, color, n):
    fig.add_trace(go.Scatter(
        x=x, y=y, mode="lines", fill="tozeroy", fillcolor=color,
        line=dict(width=0, color=color), xaxis="x" + n, yaxis="y" + n,
        hoverinfo="skip", showlegend=False))


def line(x, y, color, n):
    fig.add_trace(go.Scatter(
        x=x, y=y, mode="lines", line=dict(width=1.2, color=color),
        xaxis="x" + n, yaxis="y" + n, hoverinfo="skip", showlegend=False))


area(TOP_CPU_T, TOP_CPU_IO, PINK, "")
area(TOP_CPU_T, TOP_CPU, BLUE, "")
area(TOP_DISK_T, TOP_UTIL, PINK, "2")
line(TOP_DISK_T, TOP_TPUT, GREEN, "2")
area(BOT_CPU_T, BOT_CPU_IO, PINK, "3")
area(BOT_CPU_T, BOT_CPU, BLUE, "3")
area(BOT_DISK_T, BOT_UTIL, PINK, "4")
line(BOT_DISK_T, BOT_TPUT, GREEN, "4")


def xax(left, right, duration, anchor):
    return dict(domain=[px_x(left), px_x(right)], range=[0, duration], anchor=anchor,
                showgrid=True, gridcolor="#dadada", gridwidth=1, dtick=1, tick0=0,
                showticklabels=False, ticks="", showline=True, mirror=True,
                linecolor="#ababab", linewidth=1.6, zeroline=False, fixedrange=True)


def yax(top, bottom, anchor):
    return dict(domain=[px_y(bottom), px_y(top)], range=[0, 1], anchor=anchor,
                showgrid=False, showticklabels=False, ticks="", showline=True,
                mirror=True, linecolor="#ababab", linewidth=1.6, zeroline=False,
                fixedrange=True)


shapes = []
annotations = []

# red dashed event markers
for ev in TOP_EVENTS:
    for n in ["", "2"]:
        shapes.append(dict(type="line", xref="x" + n, yref="y" + n,
                           x0=ev, x1=ev, y0=0, y1=1, layer="below",
                           line=dict(color="rgba(240,80,80,0.9)", width=1.5, dash="dash")))
for ev in BOT_EVENTS:
    for n in ["3", "4"]:
        shapes.append(dict(type="line", xref="x" + n, yref="y" + n,
                           x0=ev, x1=ev, y0=0, y1=1, layer="below",
                           line=dict(color="rgba(240,80,80,0.9)", width=1.5, dash="dash")))

# outer frame
shapes.append(dict(type="line", xref="paper", yref="paper", x0=px_x(7), x1=1,
                   y0=px_y(7.3), y1=px_y(7.3), line=dict(color="#222", width=1.5)))
shapes.append(dict(type="line", xref="paper", yref="paper", x0=px_x(7), x1=px_x(7),
                   y0=px_y(7.3), y1=0, line=dict(color="#222", width=1.5)))

SQ_X = [19, 167, 316, 465]
TXT_X = [37, 186, 335, 484]


def legend_square(ix, cy, color):
    shapes.append(dict(type="rect", xref="paper", yref="paper",
                       x0=px_x(SQ_X[ix]), x1=px_x(SQ_X[ix] + 11),
                       y0=px_y(cy + 5.5), y1=px_y(cy - 5.5), fillcolor=color,
                       line=dict(color="rgba(150,150,150,0.8)", width=0.8)))


def legend_text(ix, cy, text):
    annotations.append(dict(xref="paper", yref="paper", x=px_x(TXT_X[ix] - 2), y=px_y(cy),
                            xanchor="left", yanchor="middle", text=text, showarrow=False,
                            font=dict(family=FONT, size=15, color=TEXT)))


def cpu_legend(cy):
    for i, (lbl, col) in enumerate(LEGEND_CPU):
        legend_square(i, cy, col)
        legend_text(i, cy, lbl)


def disk_legend(cy):
    shapes.append(dict(type="line", xref="paper", yref="paper", x0=px_x(19), x1=px_x(31),
                       y0=px_y(cy), y1=px_y(cy), line=dict(color=GREEN, width=3)))
    shapes.append(dict(type="circle", xref="paper", yref="paper", x0=px_x(21.5), x1=px_x(27.5),
                       y0=px_y(cy + 3), y1=px_y(cy - 3), fillcolor=GREEN,
                       line=dict(color=GREEN, width=0)))
    legend_text(0, cy, LEGEND_DISK[0])
    legend_square(1, cy, "#eba8a8")
    legend_text(1, cy, LEGEND_DISK[1])


def proc_legend(cy):
    for i, (lbl, col) in enumerate(LEGEND_PROC):
        legend_square(i, cy, col)
        legend_text(i, cy, lbl)


cpu_legend(23.5)
disk_legend(130)
proc_legend(231)
cpu_legend(256)
disk_legend(363.5)
proc_legend(463)

# max throughput labels
t_top_max = TOP_DISK_T[TOP_TPUT.index(max(TOP_TPUT))]
t_bot_max = BOT_DISK_T[BOT_TPUT.index(max(BOT_TPUT))]
annotations.append(dict(xref="x2", yref="paper", x=t_top_max, y=px_y(155.5), xanchor="left",
                        yanchor="middle", xshift=3, text=TOP_MAX_LABEL, showarrow=False,
                        font=dict(family=FONT, size=15, color=GREEN)))
annotations.append(dict(xref="x4", yref="paper", x=t_bot_max, y=px_y(388), xanchor="left",
                        yanchor="middle", xshift=3, text=BOT_MAX_LABEL, showarrow=False,
                        font=dict(family=FONT, size=15, color=GREEN)))

fig.update_layout(
    width=W, height=H, margin=dict(l=0, r=0, t=0, b=0),
    paper_bgcolor="white", plot_bgcolor="white", showlegend=False,
    font=dict(family=FONT, size=15, color=TEXT),
    xaxis=xax(18.3, 861, TOP_DURATION, "y"),
    yaxis=yax(40, 109, "x"),
    xaxis2=xax(18.3, 861, TOP_DURATION, "y2"),
    yaxis2=yax(148, 218, "x2"),
    xaxis3=xax(19, 1350.7, BOT_DURATION, "y3"),
    yaxis3=yax(273, 342.5, "x3"),
    xaxis4=xax(19, 1350.7, BOT_DURATION, "y4"),
    yaxis4=yax(380.7, 450.7, "x4"),
    shapes=shapes, annotations=annotations,
)

fig.write_html("out.html", config={"displayModeBar": False},
               post_script="document.body.style.margin='0px';document.body.style.overflow='hidden';")
